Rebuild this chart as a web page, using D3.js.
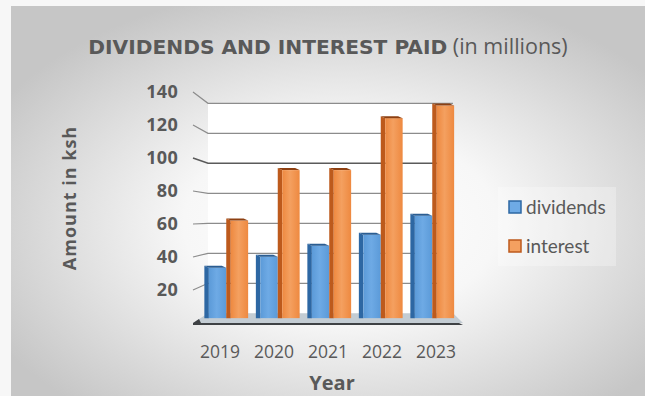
<!DOCTYPE html>
<html>
<head>
<meta charset="utf-8">
<script src="https://cdn.jsdelivr.net/npm/d3@7"></script>
<style>
  html, body { margin: 0; padding: 0; background: #f7f7f7; }
  svg { display: block; }
</style>
</head>
<body>
<svg id="chart" width="645" height="396"></svg>
<script>
// ---- data (millions of ksh) ----
const years = ["2019", "2020", "2021", "2022", "2023"];
const dividends = [32, 39, 46, 53, 65];
const interest = [62, 94, 94, 127, 135];
const seriesNames = ["dividends", "interest"];
const yTicks = [20, 40, 60, 80, 100, 120, 140];

// ---- layout ----
const W = 645, H = 396;
const svg = d3.select("#chart");
const defs = svg.append("defs");

// pseudo-3D box: a front plane and a back plane, bars sit halfway between
const front = { x0: 193, x1: 463, y0: 323, y1: 92 };
const back  = { x0: 208, x1: 453, y0: 313.3, y1: 103.3 };
const depth = 0.5;
const lerp = (a, b, t) => a + (b - a) * t;
const mid = {
  x0: lerp(front.x0, back.x0, depth), x1: lerp(front.x1, back.x1, depth),
  y0: lerp(front.y0, back.y0, depth), y1: lerp(front.y1, back.y1, depth)
};

const yFront = d3.scaleLinear().domain([0, 140]).range([front.y0, front.y1]);
const yBack  = d3.scaleLinear().domain([0, 140]).range([back.y0, back.y1]);
const yMid   = d3.scaleLinear().domain([0, 140]).range([mid.y0, mid.y1]);

const xFront = d3.scaleBand().domain(years).range([front.x0, front.x1]);
const xMid = d3.scaleBand().domain(years).range([mid.x0, mid.x1])
  .paddingInner(0.15).paddingOuter(0.075);
const xSeries = d3.scaleBand().domain(seriesNames).range([0, xMid.bandwidth()]);

// ---- background ----
const bg = defs.append("radialGradient").attr("id", "bgGrad")
  .attr("cx", "0.52").attr("cy", "0.56").attr("r", "0.62");
bg.append("stop").attr("offset", "0").attr("stop-color", "#ffffff");
bg.append("stop").attr("offset", "0.4").attr("stop-color", "#f7f7f7");
bg.append("stop").attr("offset", "1").attr("stop-color", "#c6c6c6");

svg.append("rect").attr("x", 11).attr("y", 6).attr("width", W - 11).attr("height", H - 6)
  .attr("fill", "url(#bgGrad)");

// ---- back wall ----
svg.append("rect")
  .attr("x", back.x0).attr("y", yBack(140))
  .attr("width", back.x1 - back.x0).attr("height", yBack(0) - yBack(140))
  .attr("fill", "#ffffff");

// ---- floor ----
svg.append("path")
  .attr("d", `M${back.x0},${back.y0} L${back.x1},${back.y0} L${front.x1},${front.y0} L${front.x0},${front.y0} Z`)
  .attr("fill", "#c3ccd3");
svg.append("path")
  .attr("d", `M${front.x0},${front.y0} L${front.x0 + 6},${front.y0 - 4} L${front.x0 + 8},${front.y0} L${front.x1 - 4},${front.y0} L${front.x1},${front.y0 + 2} L${front.x0},${front.y0 + 2} Z`)
  .attr("fill", "#3e4144");

// ---- gridlines: side-wall diagonal + back-wall horizontal ----
const grid = svg.append("g");
yTicks.forEach(v => {
  const stroke = v === 100 ? "#5a5a5a" : "#8c8c8c";
  grid.append("path")
    .attr("d", `M${front.x0},${yFront(v)} L${back.x0},${yBack(v)} L${back.x1},${yBack(v)}`)
    .attr("fill", "none").attr("stroke", stroke)
    .attr("stroke-width", v === 100 ? 1.6 : 1.2);
});

// ---- bars ----
const blue = { face: "#5b9ad8", light: "#6eaae5", side: "#2d67a3", top: "#2a5d92" };
const orange = { face: "#ee8940", light: "#f4a060", side: "#bd5a1c", top: "#8d4012" };

function faceGradient(id, c) {
  const g = defs.append("linearGradient").attr("id", id)
    .attr("x1", "0").attr("x2", "1").attr("y1", "0").attr("y2", "0");
  g.append("stop").attr("offset", "0").attr("stop-color", c.face);
  g.append("stop").attr("offset", "0.45").attr("stop-color", c.light);
  g.append("stop").attr("offset", "1").attr("stop-color", c.face);
}
faceGradient("gBlue", blue);
faceGradient("gOrange", orange);

const rows = years.map((yr, i) => ({ year: yr, dividends: dividends[i], interest: interest[i] }));
const palette = { dividends: { c: blue, grad: "url(#gBlue)" }, interest: { c: orange, grad: "url(#gOrange)" } };

const sideW = 4.5, rise = 2;
const bars = svg.append("g");
rows.forEach(r => {
  seriesNames.forEach(s => {
    const x = xMid(r.year) + xSeries(s);
    const w = xSeries.bandwidth();
    const yt = yMid(r[s]);
    const yb = yMid(0);
    const p = palette[s];
    // left side face
    bars.append("path")
      .attr("d", `M${x},${yb} L${x},${yt - rise} L${x + sideW},${yt} L${x + sideW},${yb} Z`)
      .attr("fill", p.c.side);
    // front face
    bars.append("rect")
      .attr("x", x + sideW).attr("y", yt)
      .attr("width", w - sideW).attr("height", yb - yt)
      .attr("fill", p.grad);
    // top edge
    bars.append("path")
      .attr("d", `M${x},${yt - rise} L${x + w - sideW},${yt - rise} L${x + w},${yt} L${x + sideW},${yt} Z`)
      .attr("fill", p.c.top);
  });
});

// ---- axis labels ----
const textColor = "#595959";
svg.append("g").selectAll("text").data(yTicks).join("text")
  .attr("x", 178).attr("y", d => yFront(d))
  .attr("dy", "0.35em").attr("text-anchor", "end")
  .attr("font-family", "'Open Sans', sans-serif").attr("font-weight", 700)
  .attr("font-size", 18).attr("letter-spacing", 0.3).attr("fill", textColor)
  .text(d => d);

svg.append("g").selectAll("text").data(years).join("text")
  .attr("x", d => xFront(d) + xFront.bandwidth() / 2).attr("y", 352)
  .attr("dy", "0.35em").attr("text-anchor", "middle")
  .attr("font-family", "'Open Sans', sans-serif")
  .attr("font-size", 17.5).attr("fill", textColor)
  .text(d => d);

svg.append("text")
  .attr("x", (front.x0 + front.x1) / 2 + 4).attr("y", 383).attr("dy", "0.35em")
  .attr("text-anchor", "middle")
  .attr("font-family", "'Open Sans', sans-serif").attr("font-weight", 700)
  .attr("font-size", 20).attr("fill", textColor)
  .text("Year");

svg.append("text")
  .attr("transform", "translate(70,198) rotate(-90)")
  .attr("dy", "0.35em").attr("text-anchor", "middle")
  .attr("font-family", "'Open Sans', sans-serif").attr("font-weight", 700)
  .attr("font-size", 18).attr("letter-spacing", 1).attr("fill", textColor)
  .text("Amount in ksh");

// ---- title ----
const title = svg.append("text")
  .attr("x", 328).attr("y", 47).attr("dy", "0.35em").attr("text-anchor", "middle")
  .attr("font-family", "'DejaVu Sans', sans-serif").attr("font-size", 20.2)
  .attr("fill", textColor);
title.append("tspan").attr("font-weight", 700).text("DIVIDENDS AND INTEREST PAID");
title.append("tspan").attr("font-weight", 400).attr("font-family", "'Open Sans', sans-serif")
  .attr("font-size", 21.5).text(" (in millions)");

// ---- legend ----
const legend = svg.append("g");
legend.append("rect")
  .attr("x", 498).attr("y", 187).attr("width", 118).attr("height", 79)
  .attr("fill", "#ffffff").attr("fill-opacity", 0.28);
const legendY = d3.scalePoint().domain(seriesNames).range([207, 246]);
seriesNames.forEach(s => {
  const c = palette[s].c;
  legend.append("rect")
    .attr("x", 509).attr("y", legendY(s) - 6).attr("width", 12).attr("height", 12)
    .attr("fill", c.light).attr("stroke", c.side).attr("stroke-width", 1.5);
  legend.append("text")
    .attr("x", 526).attr("y", legendY(s)).attr("dy", "0.35em")
    .attr("font-family", "Lato, 'Open Sans', sans-serif").attr("font-size", 19)
    .attr("fill", textColor).text(s);
});
</script>
</body>
</html>
